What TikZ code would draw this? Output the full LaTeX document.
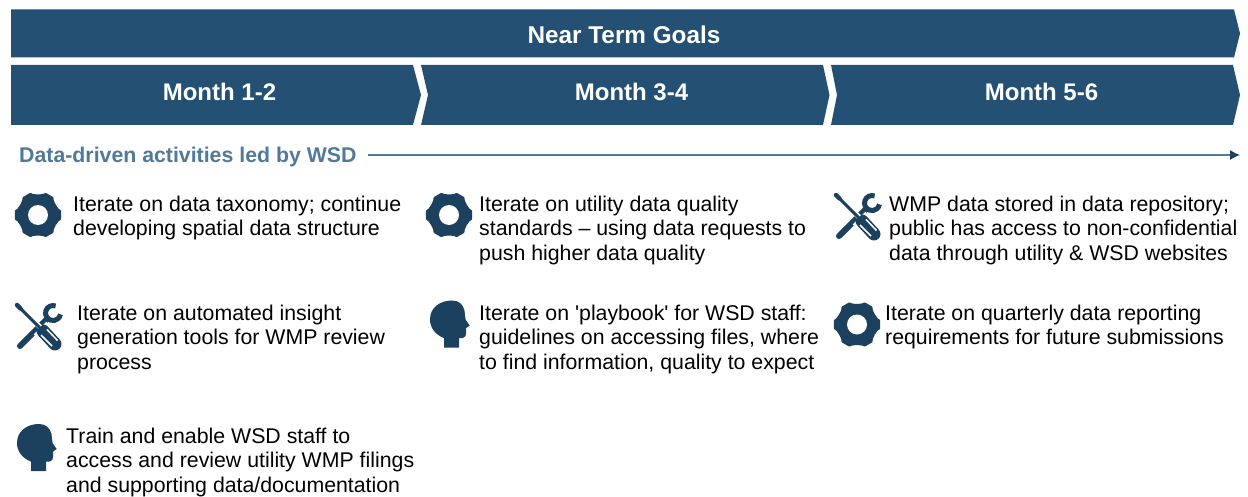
\documentclass[tikz,border=0pt]{standalone}
\usepackage{fontspec}
\setmainfont[Ligatures=TeXOff]{Liberation Sans}
\usetikzlibrary{calc, positioning, arrows.meta}
\definecolor{bandBlue}{HTML}{245173}
\definecolor{iconBlue}{HTML}{1C415E}
\definecolor{labelBlue}{HTML}{4F7A9A}
\tikzset{
    band/.style={fill=bandBlue},
    bandText/.style={text=white, font=\fontsize{24.3}{28}\selectfont\bfseries, inner sep=0pt},
    monthText/.style={bandText, font=\fontsize{24}{28}\selectfont\bfseries},
    item/.style={anchor=north west, align=left, inner sep=0pt, text=black, font=\fontsize{21.3}{24.5}\selectfont},
    iconFill/.style={fill=iconBlue},
    leadText/.style={anchor=west, inner sep=0pt, text=labelBlue, font=\fontsize{21.3}{24}\selectfont\bfseries},
    leadArrow/.style={-{Latex[length=10pt,width=10pt,color=iconBlue]}, draw=labelBlue, line width=1.2pt},
    gearIcon/.pic={
        \fill[iconFill, rounded corners=0.6pt] (-30:20.5)
            \foreach \a in {0,60,...,300}{ -- (\a-17:21.5) -- (\a-11:23.5) -- (\a+11:23.5) -- (\a+17:21.5) -- (\a+30:20.5)} -- cycle;
        \fill[white] (0,0) circle (10pt);
    },
    toolsIcon/.pic={
        % Wrench
        \draw[iconBlue, line width=6pt, line cap=round] (-18,-19) -- (9,8);
        \draw[iconBlue, line width=5pt] (17.6,21) arc[start angle=70, end angle=350, radius=7.5pt];
        % Screwdriver
        \draw[white, line width=18pt] (2,-1) -- (20,-19);
        \draw[iconBlue, line width=13pt, line cap=round] (5,-4) -- (17,-17);
        \draw[white, line width=1.5pt] (3,-8) -- (14,-19) (9,-2.5) -- (19.5,-13.5);
        \draw[white, line width=5pt] (-17,19) -- (2,0);
        \draw[iconBlue, line width=3pt] (-17,18) -- (3,-2);
        \draw[iconBlue, line width=4.5pt, line cap=round] (-21,22) -- (-17.5,18.5);
    },
    headIcon/.pic={
        \fill[iconFill] (-7,-23) -- (-7,-13.7)
            .. controls (-16,-10) and (-21,-3) .. (-21,5)
            .. controls (-21,17) and (-11,24) .. (1,24)
            .. controls (8,24) and (12,20) .. (13.5,14)
            .. controls (14,10) and (14,7) .. (14.7,4.7)
            -- (18.7,-1) -- (15,-3.7) -- (15,-9)
            .. controls (15,-13) and (12,-14) .. (8,-13.7)
            -- (8,-23) -- cycle;
    }
}
\begin{document}
\begin{tikzpicture}[x=1pt, y=1pt]
    \useasboundingbox (0,0) rectangle (1248,496);

    % Header bars
    \fill[band] (11,486.5) -- (1234,486.5) -- (1240,462.5) -- (1234,438.5) -- (11,438.5) -- cycle;
    \node[bandText] (Goals) at (624,461) {Near Term Goals};

    \fill[band] (11,431) -- (413,431) -- (421,401) -- (413,371) -- (11,371) -- cycle;
    \node[monthText] (MonthA) at (219.5,404) {Month 1-2};

    \fill[band] (421,431) -- (823,431) -- (829.5,401) -- (823,371) -- (421,371) -- (428,401) -- cycle;
    \node[monthText] (MonthB) at (631.5,404) {Month 3-4};

    \fill[band] (831,431) -- (1233,431) -- (1240,401) -- (1233,371) -- (831,371) -- (837,401) -- cycle;
    \node[monthText] (MonthC) at (1041.5,404) {Month 5-6};

    % Lead line
    \node[leadText] (Lead) at (19,339) {Data-driven activities led by WSD};
    \coordinate (LeadEnd) at (1240,341);
    \draw[leadArrow] ($(Lead.east)+(11,2)$) -- (LeadEnd);

    % First column
    \pic (GearA) at (38,281) {gearIcon};
    \node[item] (TextA) at (73,300.5) {Iterate on data taxonomy; continue\\developing spatial data structure};
    \pic (ToolsA) at (38,169) {toolsIcon};
    \node[item] (TextB) at (77,191.5) {Iterate on automated insight\\generation tools for WMP review\\process};
    \pic (HeadA) at (38,48) {headIcon};
    \node[item] (TextC) at (66,68.5) {Train and enable WSD staff to\\access and review utility WMP filings\\and supporting data/documentation};

    % Second column
    \pic (GearB) at (449,281) {gearIcon};
    \node[item] (TextD) at (479,300.5) {Iterate on utility data quality\\standards – using data requests to\\push higher data quality};
    \pic (HeadB) at (451,171.5) {headIcon};
    \node[item] (TextE) at (479,191.5) {Iterate on 'playbook' for WSD staff:\\guidelines on accessing files, where\\to find information, quality to expect};

    % Third column
    \pic (ToolsB) at (857,279) {toolsIcon};
    \node[item] (TextF) at (889,300.5) {WMP data stored in data repository;\\public has access to non-confidential\\data through utility \& WSD websites};
    \pic (GearC) at (857,171.5) {gearIcon};
    \node[item] (TextG) at (885,191.5) {Iterate on quarterly data reporting\\requirements for future submissions};
\end{tikzpicture}
\end{document}
